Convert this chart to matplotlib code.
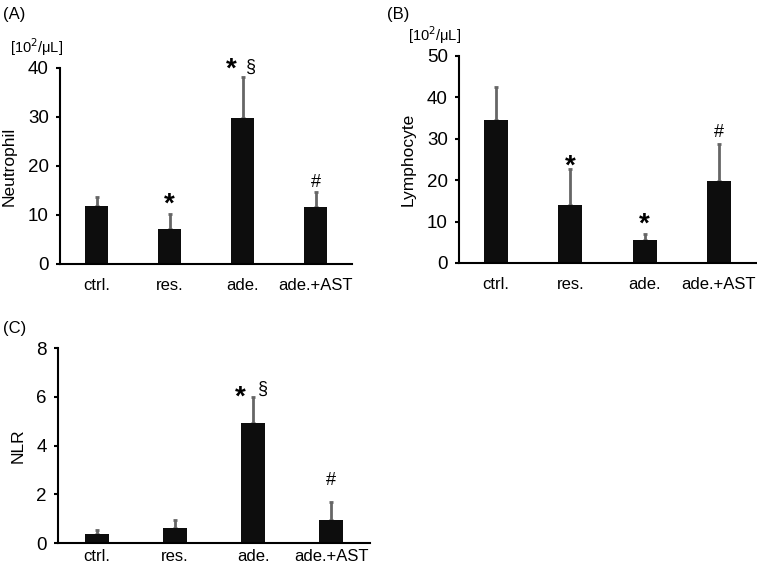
import matplotlib
matplotlib.use("Agg")
import matplotlib.pyplot as plt

plt.rcParams["font.family"] = ["Liberation Sans", "DejaVu Sans"]

# Data
groups = ["ctrl.", "res.", "ade.", "ade.+AST"]

neutrophil = [11.9, 7.1, 29.7, 11.6]
neutrophil_err = [1.8, 3.1, 8.4, 3.1]

lymphocyte = [34.6, 14.0, 5.6, 19.8]
lymphocyte_err = [7.8, 8.6, 1.4, 9.0]

nlr = [0.38, 0.63, 4.94, 0.96]
nlr_err = [0.14, 0.30, 1.06, 0.73]

bar_color = "#0d0d0d"
err_color = "#666666"

fig = plt.figure(figsize=(7.57, 5.67), dpi=100)

ax_a = fig.add_axes([0.0793, 0.5344, 0.3857, 0.3457])
ax_b = fig.add_axes([0.6063, 0.5362, 0.3924, 0.3651])
ax_c = fig.add_axes([0.0766, 0.0423, 0.4122, 0.3439])


def draw_panel(ax, values, errors, ymax, ystep, ylabel, xpad):
    x = list(range(len(groups)))
    ax.bar(x, values, width=0.32, color=bar_color, zorder=2)
    ax.errorbar(x, values, yerr=[[0] * len(errors), errors], fmt="none",
                ecolor=err_color, elinewidth=2, capsize=1.2, capthick=2,
                zorder=1)
    ax.set_xlim(-0.5, len(groups) - 0.5)
    ax.set_ylim(0, ymax)
    ax.set_yticks(range(0, ymax + 1, ystep))
    ax.set_xticks(x)
    ax.set_xticklabels(groups)
    ax.tick_params(axis="x", length=0, labelsize=12, pad=xpad)
    ax.tick_params(axis="y", length=3, width=1.5, labelsize=13.5, pad=5)
    for side in ["top", "right"]:
        ax.spines[side].set_visible(False)
    for side in ["left", "bottom"]:
        ax.spines[side].set_linewidth(1.5)
    ax.set_ylabel(ylabel, fontsize=12.5, labelpad=8)


draw_panel(ax_a, neutrophil, neutrophil_err, 40, 10, "Neutrophil", 10)
draw_panel(ax_b, lymphocyte, lymphocyte_err, 50, 10, "Lymphocyte", 10)
draw_panel(ax_c, nlr, nlr_err, 8, 2, "NLR", 4)

star = dict(ha="center", va="center", fontsize=20, fontweight="bold")
sym = dict(ha="center", va="center", fontsize=13)

# panel A marks
ax_a.text(1, 12.2, "*", **star)
ax_a.text(1.84, 39.6, "*", **star)
ax_a.text(2.12, 40.2, "§", **sym)
ax_a.text(3, 16.7, "#", **sym)

# panel B marks
ax_b.text(1, 23.2, "*", **star)
ax_b.text(2, 9.2, "*", **star)
ax_b.text(3, 31.4, "#", **sym)

# panel C marks
ax_c.text(1.84, 5.98, "*", **star)
ax_c.text(2.13, 6.3, "§", **sym)
ax_c.text(3, 2.55, "#", **sym)

# panel letters and units
fig.text(3 / 757, 1 - 15 / 567, "(A)", fontsize=12, va="center", ha="left")
fig.text(387 / 757, 1 - 15 / 567, "(B)", fontsize=12, va="center", ha="left")
fig.text(3 / 757, 1 - 328 / 567, "(C)", fontsize=12, va="center", ha="left")
fig.text(10 / 757, 1 - 47 / 567, "[10$^2$/μL]", fontsize=10.5, va="center", ha="left")
fig.text(408 / 757, 1 - 35 / 567, "[10$^2$/μL]", fontsize=10.5, va="center", ha="left")

fig.savefig("out.png", dpi=100)
